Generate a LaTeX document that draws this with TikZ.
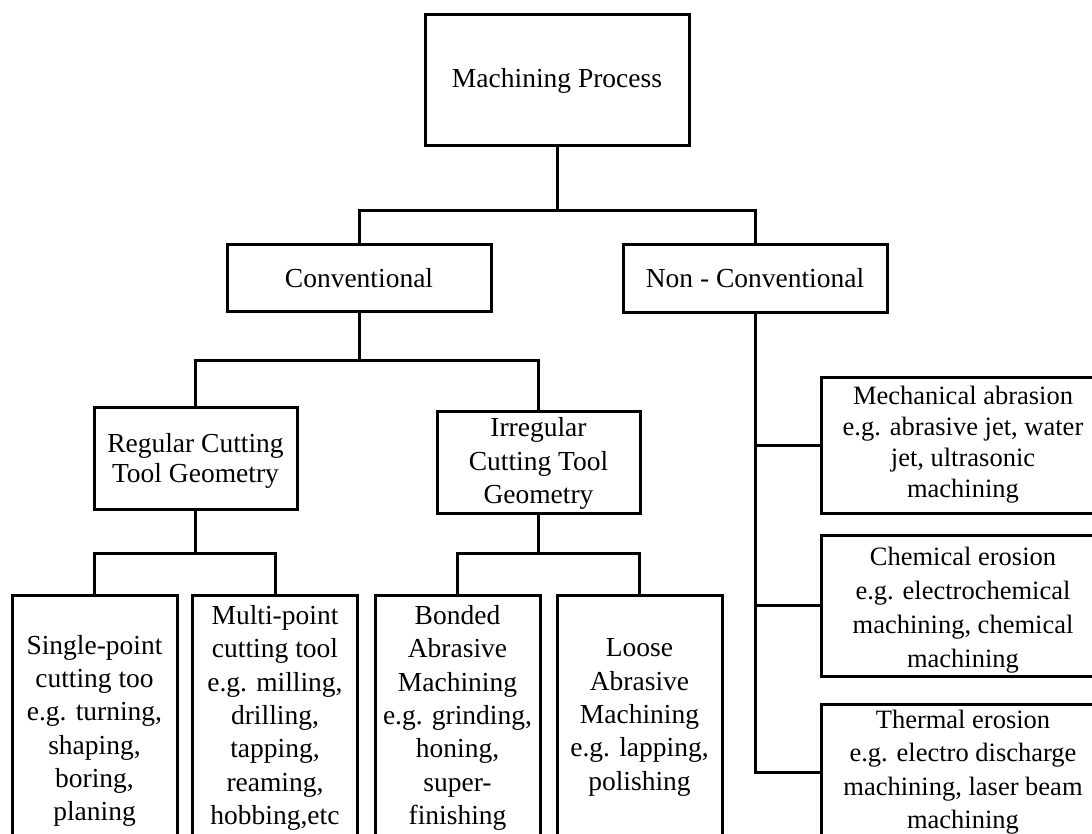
\documentclass[tikz,border=0pt]{standalone}
\usepackage{fontspec}
\setmainfont{Liberation Serif}
\begin{document}
\begin{tikzpicture}[x=1pt,y=-1pt,
  box/.style={draw=black, line width=3pt, fill=white, inner sep=0pt, minimum width=#1},
  box/.default=264,
  label/.style={inner sep=0pt, align=center, font=\fontsize{26.5}{#1}\selectfont},
  label/.default=32,
  biglabel/.style={inner sep=0pt, align=center, font=\fontsize{27.5}{#1}\selectfont},
  biglabel/.default=32,
  link/.style={draw=black, line width=3pt}
]
\clip (0,0) rectangle (1092,834);
\fill[white] (0,0) rectangle (1092,834);

% level 0
\node[box, minimum height=131] (top) at (557,80.5) {};
\node[biglabel] (toptext) at (557,80.5) {Machining Process};

% level 1
\node[box, minimum height=66] (conv) at (359,278) {};
\node[biglabel] (convtext) at (359,278) {Conventional};
\node[box, minimum height=67] (nonconv) at (755,278.5) {};
\node[biglabel] (nonconvtext) at (755,278.5) {Non - Conventional};

% level 2 (conventional branch)
\node[box=203, minimum height=102] (reg) at (195.5,458) {};
\node[biglabel=30] (regtext) at (195.5,461) {Regular Cutting\\Tool Geometry};
\node[box=203, minimum height=102] (irr) at (538.5,462) {};
\node[biglabel=33.5] (irrtext) at (538.5,463.5) {Irregular\\Cutting Tool\\Geometry};

% level 3 (conventional leaves)
\node[box=165, minimum height=280] (single) at (94.5,735) {};
\node[biglabel=33.3] (singletext) at (94.5,731) {Single-point\\cutting too\\e.g. turning,\\shaping,\\boring,\\planing};
\node[box=165, minimum height=280] (multi) at (275,735) {};
\node[biglabel=33.3] (multitext) at (275,718) {Multi-point\\cutting tool\\e.g. milling,\\drilling,\\tapping,\\reaming,\\hobbing,etc};
\node[box=165, minimum height=280] (bonded) at (457.5,735) {};
\node[biglabel=33.3] (bondedtext) at (457.5,718) {Bonded\\Abrasive\\Machining\\e.g. grinding,\\honing,\\super-\\finishing};
\node[box=165, minimum height=280] (loose) at (639.5,735) {};
\node[biglabel=33.3] (loosetext) at (639.5,717.5) {Loose\\Abrasive\\Machining\\e.g. lapping,\\polishing};

% non-conventional leaves
\node[box=288, minimum height=136] (mech) at (965,445) {};
\node[label=31] (mechtext) at (963,444.5) {Mechanical abrasion\\e.g. abrasive jet, water\\jet, ultrasonic\\machining};
\node[box=288, minimum height=141] (chem) at (965,605.5) {};
\node[label=34] (chemtext) at (963,610) {Chemical erosion\\e.g. electrochemical\\machining, chemical\\machining};
\node[box=288, minimum height=152] (therm) at (965,780) {};
\node[label=33.5] (thermtext) at (963,772) {Thermal erosion\\e.g. electro discharge\\machining, laser beam\\machining};

% junction points of the tree
\coordinate (j0) at (557,211);
\coordinate (j1) at (359,360);
\coordinate (j2) at (195.5,553);
\coordinate (j3) at (538.5,553);
\coordinate (tj) at (821,772);

% connectors
\draw[link] (top.south) -- (j0);
\draw[link] (conv.north) -- (conv.north |- j0) -- (nonconv.north |- j0) -- (nonconv.north);

\draw[link] (conv.south) -- (j1);
\draw[link] (reg.north) -- (reg.north |- j1) -- (irr.north |- j1) -- (irr.north);

\draw[link] (reg.south) -- (j2);
\draw[link] (single.north) -- (single.north |- j2) -- (multi.north |- j2) -- (multi.north);

\draw[link] (irr.south) -- (j3);
\draw[link] (bonded.north) -- (bonded.north |- j3) -- (loose.north |- j3) -- (loose.north);

\draw[link] (nonconv.south) -- (nonconv.south |- tj) -- (tj);
\draw[link] (nonconv.south |- mech.west) -- (mech.west);
\draw[link] (nonconv.south |- chem.west) -- (chem.west);
\end{tikzpicture}
\end{document}
